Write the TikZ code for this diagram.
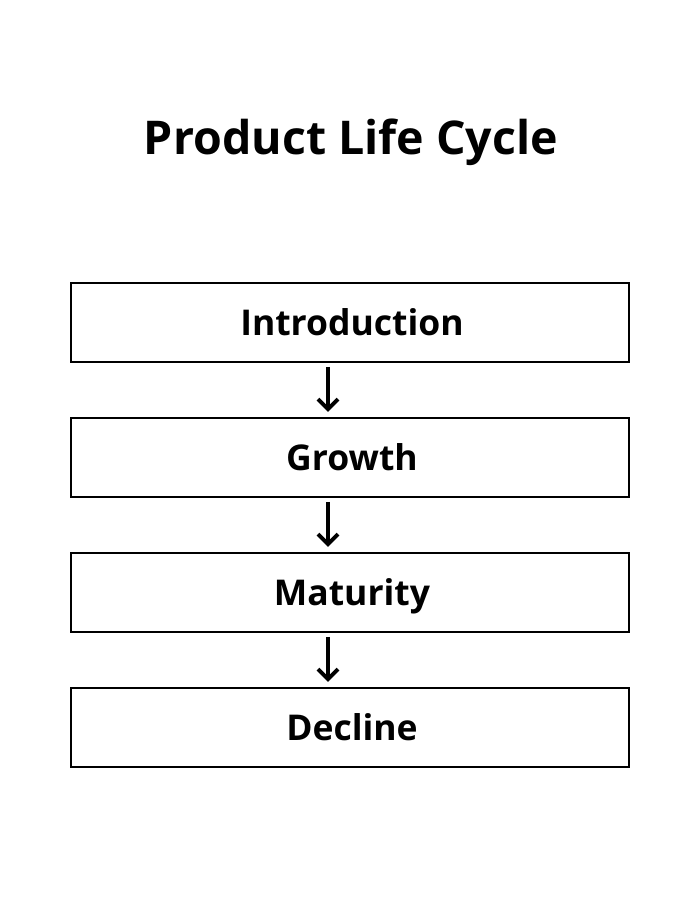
\documentclass[tikz,border=0pt]{standalone}
\usepackage{fontspec}
\setmainfont{Open Sans}
\usetikzlibrary{arrows.meta}
\tikzset{
  stagebox/.style={draw=black, line width=1.7pt, minimum width=558pt, minimum height=79pt,
    inner sep=0pt, font=\fontsize{35.5}{40}\selectfont\bfseries, text height=25pt, text depth=0pt},
  flowshaft/.style={draw=black, line width=4pt, line cap=butt, shorten <=4pt, shorten >=3pt},
  flowhead/.style={draw=black, line width=4pt, line cap=butt, line join=miter}
}
\begin{document}
\begin{tikzpicture}[x=1pt,y=-1pt]
\useasboundingbox[fill=white] (0,0) rectangle (700,900);
\node[font=\fontsize{46.5}{54}\selectfont\bfseries, anchor=base] (title) at (351,154) {Product Life Cycle};
\node[stagebox] (intro) at (350,322.5) {\hspace*{4pt}Introduction};
\node[stagebox] (growth) at (350,457.5) {\hspace*{4pt}Growth};
\node[stagebox] (mat) at (350,592.5) {\hspace*{4pt}Maturity};
\node[stagebox] (dec) at (350,727.5) {\hspace*{4pt}Decline};
\foreach \a/\b in {intro/growth, growth/mat, mat/dec}{
  \coordinate (tip-\a) at ([xshift=-22pt,yshift=5pt]\b.north);
  \path[flowshaft] ([xshift=-22pt]\a.south) -- (tip-\a);
  \path[flowhead] ([xshift=-10pt,yshift=13pt]tip-\a) -- ([yshift=3pt]tip-\a) -- ([xshift=10pt,yshift=13pt]tip-\a);
}
\end{tikzpicture}
\end{document}
